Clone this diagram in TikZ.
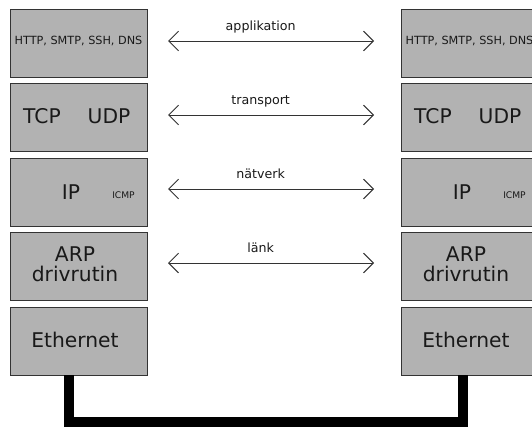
\documentclass[tikz,border=0pt]{standalone}
\usepackage{fontspec}
\setmainfont{DejaVu Sans}
\usetikzlibrary{arrows.meta}

\tikzset{
  lager/.style={draw=black!80, fill=black!30, line width=0.7pt, anchor=north west,
    minimum width=3.425cm, minimum height=1.71cm, inner sep=0pt, outer sep=0pt},
  stor/.style={font=\fontsize{14.4}{14}\selectfont, text=black!90, inner sep=0pt},
  liten/.style={font=\fontsize{8}{9}\selectfont, text=black!90, inner sep=0pt},
  pytteliten/.style={font=\fontsize{6.5}{7}\selectfont, text=black!90, inner sep=0pt},
  etikett/.style={font=\fontsize{9}{10}\selectfont, text=black!90, inner sep=0pt, anchor=base, yshift=7.5pt},
  pil/.style={draw=black!80, line width=0.7pt, {Straight Barb[length=7pt,width=14pt]}-{Straight Barb[length=7pt,width=14pt]}},
  kabel/.style={draw=black, line width=7.1pt, line join=miter}
}

\begin{document}
\begin{tikzpicture}[x=0.025cm, y=-0.025cm]
\useasboundingbox (0,0) rectangle (532,427);
\clip (0,0) rectangle (532,427);

% vänster stack
\node[lager] (app1) at (10,9) {};
\node[lager] (tra1) at (10,83.5) {};
\node[lager] (nat1) at (10,158) {};
\node[lager] (lan1) at (10,232.5) {};
\node[lager] (eth1) at (10,307) {};

% höger stack
\node[lager] (app2) at (401,9) {};
\node[lager] (tra2) at (401,83.5) {};
\node[lager] (nat2) at (401,158) {};
\node[lager] (lan2) at (401,232.5) {};
\node[lager] (eth2) at (401,307) {};

% texter
\node[liten] (http1) at (78.5,41) {HTTP, SMTP, SSH, DNS};
\node[liten] (http2) at (469.5,41) {HTTP, SMTP, SSH, DNS};
\node[stor] (tcp1) at (42,116) {TCP};
\node[stor] (udp1) at (109,116) {UDP};
\node[stor] (tcp2) at (433,116) {TCP};
\node[stor] (udp2) at (500,116) {UDP};
\node[stor, anchor=base] (ip1) at (71,199) {IP};
\node[pytteliten, anchor=base] (icmp1) at (123.5,198.5) {ICMP};
\node[stor, anchor=base] (ip2) at (462,199) {IP};
\node[pytteliten, anchor=base] (icmp2) at (514.5,198.5) {ICMP};
\node[stor, align=center] (arp1) at (75,264) {ARP\\drivrutin};
\node[stor, align=center] (arp2) at (466,264) {ARP\\drivrutin};
\node[stor] (ethtxt1) at (75,340) {Ethernet};
\node[stor] (ethtxt2) at (466,340) {Ethernet};

% protokollpilar mellan stackarna
\coordinate (a1) at (168,41);   \coordinate (b1) at (374,41);
\coordinate (a2) at (168,115);  \coordinate (b2) at (374,115);
\coordinate (a3) at (168,189);  \coordinate (b3) at (374,189);
\coordinate (a4) at (168,263);  \coordinate (b4) at (374,263);
\draw[pil] (a1) -- (b1) node[etikett, pos=0.45] (lbl1) {applikation};
\draw[pil] (a2) -- (b2) node[etikett, pos=0.45] (lbl2) {transport};
\draw[pil] (a3) -- (b3) node[etikett, pos=0.45] (lbl3) {nätverk};
\draw[pil] (a4) -- (b4) node[etikett, pos=0.45] (lbl4) {länk};

% kabeln
\coordinate (k1) at (69,422);
\coordinate (k2) at (463,422);
\draw[kabel] (eth1.south -| k1) -- (k1) -- (k2) -- (eth2.south -| k2);
\end{tikzpicture}
\end{document}
